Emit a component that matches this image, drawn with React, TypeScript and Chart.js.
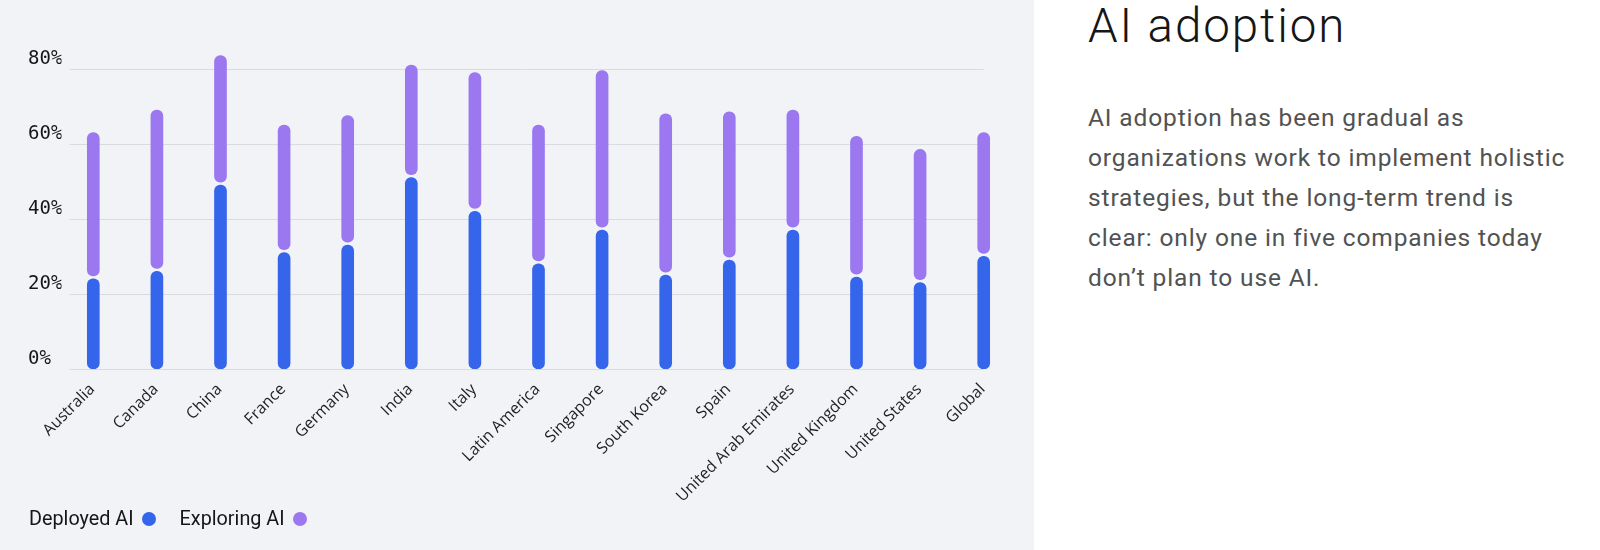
import React, { useEffect, useRef } from "react";
import { Chart, registerables } from "chart.js";

Chart.register(...registerables);

const categories = [
  "Australia",
  "Canada",
  "China",
  "France",
  "Germany",
  "India",
  "Italy",
  "Latin America",
  "Singapore",
  "South Korea",
  "Spain",
  "United Arab Emirates",
  "United Kingdom",
  "United States",
  "Global",
];
const deployedAI = [24, 26, 49, 31, 33, 51, 42, 28, 37, 25, 29, 37, 24.5, 23, 30];
const exploringAI = [39, 43, 34.5, 34, 34.5, 30, 37, 37, 42.5, 43, 39.5, 32, 37.5, 35.5, 33];
const yTickValues = [0, 20, 40, 60, 80];
const seriesNames = ["Deployed AI", "Exploring AI"];
const titleText = "AI adoption";
const bodyLines = [
  "AI adoption has been gradual as",
  "organizations work to implement holistic",
  "strategies, but the long-term trend is",
  "clear: only one in five companies today",
  "don\u2019t plan to use AI.",
];

const BLUE = "#3565ea";
const PURPLE = "#9b78f0";
const PANEL = "#f2f3f7";
const GRID = "#dadbe0";
const SEGMENT_GAP = 3;
const GRID_INSET = 8;

const segmentGapPlugin = {
  id: "segmentGap",
  afterDatasetsUpdate(chart: any) {
    const meta = chart.getDatasetMeta(1);
    meta.data.forEach((el: any) => {
      el.base = el.base - SEGMENT_GAP;
    });
  },
};

const gridPlugin = {
  id: "yGridLines",
  beforeDatasetsDraw(chart: any) {
    const { ctx, chartArea, scales } = chart;
    const x0 = chartArea.left + GRID_INSET;
    const x1 = scales.x.getPixelForValue(categories.length - 1);
    ctx.save();
    ctx.strokeStyle = GRID;
    ctx.lineWidth = 1;
    yTickValues.forEach((v) => {
      const y = Math.round(scales.y.getPixelForValue(v)) + 0.5;
      ctx.beginPath();
      ctx.moveTo(x0, y);
      ctx.lineTo(x1, y);
      ctx.stroke();
    });
    ctx.restore();
  },
};

const radius = { topLeft: 6, topRight: 6, bottomLeft: 6, bottomRight: 6 };

function ChartPanel() {
  const ref = useRef<HTMLCanvasElement | null>(null);
  useEffect(() => {
    if (!ref.current) return;
    const chart = new Chart(ref.current, {
      type: "bar",
      data: {
        labels: categories,
        datasets: [
          {
            label: seriesNames[0],
            data: deployedAI,
            backgroundColor: BLUE,
            barThickness: 12,
            borderRadius: radius,
            borderSkipped: false,
          },
          {
            label: seriesNames[1],
            data: exploringAI,
            backgroundColor: PURPLE,
            barThickness: 12,
            borderRadius: radius,
            borderSkipped: false,
          },
        ],
      },
      options: {
        responsive: false,
        animation: false,
        devicePixelRatio: 1,
        layout: { padding: { left: 28, top: 50, right: 18.5, bottom: 0 } },
        plugins: {
          legend: { display: false },
          tooltip: { enabled: false },
          title: { display: false },
        },
        scales: {
          x: {
            stacked: true,
            grid: { display: false, drawTicks: false },
            border: { display: false },
            afterFit: (s: any) => {
              s.height = 181;
            },
            ticks: {
              autoSkip: false,
              minRotation: 45,
              maxRotation: 45,
              padding: 11,
              labelOffset: -1,
              color: "#1f1f1f",
              font: { family: "'Open Sans'", size: 16 },
            },
          },
          y: {
            stacked: true,
            min: 0,
            max: 85,
            grid: { display: false, drawTicks: false },
            border: { display: false },
            afterFit: (s: any) => {
              s.width = 33.5;
            },
            ticks: {
              stepSize: 20,
              includeBounds: false,
              crossAlign: "far",
              labelOffset: -10,
              padding: 0,
              color: "#161616",
              font: { family: "'DejaVu Sans Mono'", size: 19 },
              callback: (v: any) => v + "%",
            },
          },
        },
      },
      plugins: [gridPlugin, segmentGapPlugin],
    } as any);
    return () => chart.destroy();
  }, []);
  return (
    <canvas
      ref={ref}
      width={1034}
      height={550}
      style={{ position: "absolute", left: 0, top: 0, width: 1034, height: 550 }}
    />
  );
}

function LegendItem({ name, color }: { name: string; color: string }) {
  return (
    <div style={{ display: "flex", alignItems: "center", marginRight: 24 }}>
      <span>{name}</span>
      <span
        style={{
          display: "inline-block",
          width: 14,
          height: 14,
          borderRadius: 7,
          background: color,
          marginLeft: 8,
        }}
      />
    </div>
  );
}

export default function App() {
  return (
    <div
      style={{
        position: "fixed",
        left: 0,
        top: 0,
        width: 1600,
        height: 550,
        background: "#ffffff",
        overflow: "hidden",
      }}
    >
      <div
        style={{
          position: "absolute",
          left: 0,
          top: 0,
          width: 1034,
          height: 550,
          background: PANEL,
        }}
      >
        <ChartPanel />
        <div
          style={{
            position: "absolute",
            left: 29,
            top: 507,
            height: 24,
            lineHeight: "24px",
            display: "flex",
            alignItems: "center",
            fontFamily: "Roboto",
            fontSize: 19.8,
            color: "#161616",
          }}
        >
          <LegendItem name={seriesNames[0]} color={BLUE} />
          <LegendItem name={seriesNames[1]} color={PURPLE} />
        </div>
      </div>
      <div
        style={{
          position: "absolute",
          left: 1088,
          top: 3.3,
          fontFamily: "Roboto",
          fontWeight: 300,
          fontSize: 47.5,
          lineHeight: "47.5px",
          letterSpacing: "1.9px",
          color: "#161616",
          whiteSpace: "nowrap",
        }}
      >
        {titleText}
      </div>
      <div
        style={{
          position: "absolute",
          left: 1088,
          top: 98,
          fontFamily: "Roboto",
          fontWeight: 400,
          fontSize: 24.5,
          lineHeight: "40px",
          letterSpacing: "0.87px",
          color: "#525252",
          whiteSpace: "nowrap",
        }}
      >
        {bodyLines.map((l, i) => (
          <div key={i}>{l}</div>
        ))}
      </div>
    </div>
  );
}
